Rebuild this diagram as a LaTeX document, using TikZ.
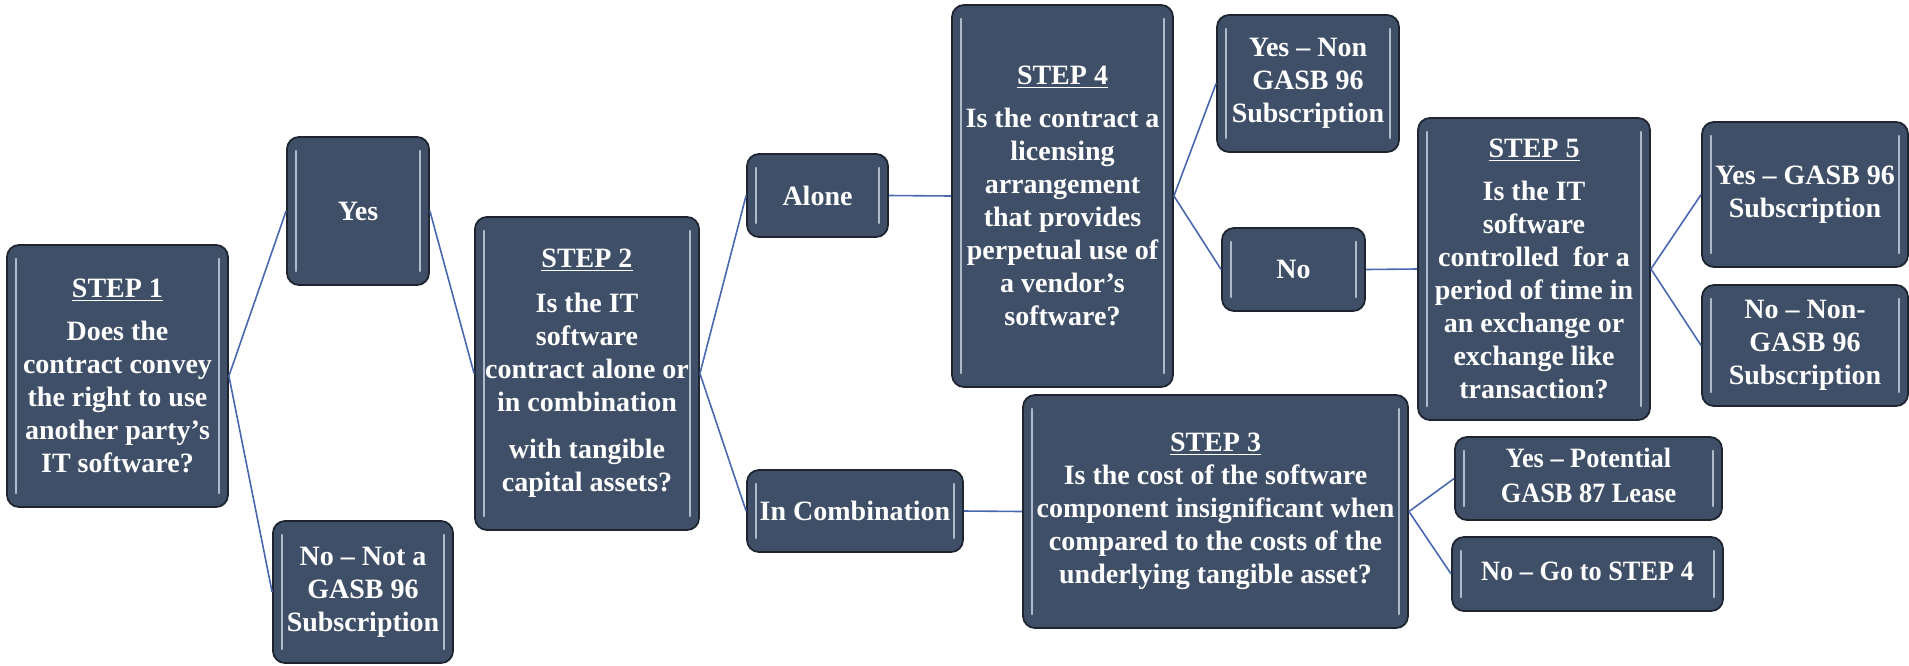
\documentclass[tikz,border=0pt]{standalone}
\usepackage{fontspec}
\setmainfont{Liberation Serif}
\usepackage{graphicx}

\definecolor{boxfill}{HTML}{3E4F67}
\definecolor{linkblue}{HTML}{4A68B0}
\definecolor{rim}{HTML}{1E2430}
\definecolor{gleam}{HTML}{C3CDDC}

% slightly narrowed setting for the wide answer boxes
\newcommand\narrow[2]{\scalebox{#1}[1]{\begin{tabular}{@{}c@{}}#2\end{tabular}}}

\tikzset{
  card/.style={
    draw=rim, line width=0.9pt, fill=boxfill, rounded corners=6pt,
    text=white, font=\fontsize{14}{16.5}\selectfont\bfseries,
    align=center, inner sep=2pt,
    path picture={
      \draw[gleam, line width=1.3pt, line cap=round, opacity=0.85]
        ([xshift=4.5pt,yshift=-7pt]path picture bounding box.north west) --
        ([xshift=4.5pt,yshift=7pt]path picture bounding box.south west);
      \draw[gleam, line width=1.3pt, line cap=round, opacity=0.85]
        ([xshift=-4.5pt,yshift=-7pt]path picture bounding box.north east) --
        ([xshift=-4.5pt,yshift=7pt]path picture bounding box.south east);
    }},
  link/.style={draw=linkblue, line width=0.8pt},
}

\begin{document}
\begin{tikzpicture}[x=0.5pt, y=-0.5pt]
\useasboundingbox (0,0) rectangle (1909,665);

% step boxes
\node[card, minimum width=110.5pt, minimum height=131pt] (s1) at (117.5,376)
  {\underline{STEP 1}\\[5pt] Does the\\ contract convey\\ the right to use\\ another party’s\\ IT software?};
\node[card, minimum width=112pt, minimum height=156.5pt] (s2) at (587,373.5)
  {\underline{STEP 2}\\[6pt] Is the IT\\ software\\ contract alone or\\ in combination\\[7pt] with tangible\\ capital assets?};
\node[card, minimum width=192.5pt, minimum height=116.5pt] (s3) at (1215.5,511.5)
  {\underline{STEP 3}\\ Is the cost of the software\\ component insignificant when\\ compared to the costs of the\\ underlying tangible asset?};
\node[card, minimum width=110.5pt, minimum height=191pt] (s4) at (1062.5,196)
  {\underline{STEP 4}\\[5pt] Is the contract a\\ licensing\\ arrangement\\ that provides\\ perpetual use of\\ a vendor’s\\ software?};
\node[card, minimum width=116pt, minimum height=151pt] (s5) at (1534,269)
  {\underline{STEP 5}\\[5pt] Is the IT\\ software\\ controlled\ \ for a\\ period of time in\\ an exchange or\\ exchange like\\ transaction?};

% answer boxes
\node[card, minimum width=71pt, minimum height=74pt] (yes1) at (358,211) {Yes};
\node[card, minimum width=90pt, minimum height=71pt] (no1) at (363,592)
  {No – Not a\\ GASB 96\\ Subscription};
\node[card, minimum width=70.5pt, minimum height=41.5pt] (alone) at (817.5,195.5) {Alone};
\node[card, minimum width=108pt, minimum height=41pt] (comb) at (855,511) {In Combination};
\node[card, minimum width=91pt, minimum height=68.5pt] (yesnon) at (1308,83.5)
  {Yes – Non\\ GASB 96\\ Subscription};
\node[card, minimum width=71.5pt, minimum height=41.5pt] (no4) at (1293.5,269.5) {No};
\node[card, minimum width=133.5pt, minimum height=41.5pt] (yespot) at (1588.5,478.5)
  {\narrow{0.94}{Yes – Potential\\[1pt] GASB 87 Lease}};
\node[card, minimum width=135.5pt, minimum height=37pt] (nogo) at (1587.5,574)
  {\narrow{0.94}{No – Go to STEP 4}};
\node[card, minimum width=103pt, minimum height=72.5pt] (yesg) at (1805,194.5)
  {Yes – GASB 96\\ Subscription};
\node[card, minimum width=103pt, minimum height=60.5pt] (nonon) at (1805,345.5)
  {No – Non-\\ GASB 96\\ Subscription};

% connectors
\draw[link] (s1.east) -- (yes1.west);
\draw[link] (s1.east) -- (no1.west);
\draw[link] (yes1.east) -- (s2.west);
\draw[link] (s2.east) -- (alone.west);
\draw[link] (s2.east) -- (comb.west);
\draw[link] (alone.east) -- (s4.west);
\draw[link] (comb.east) -- (s3.west);
\draw[link] (s4.east) -- (yesnon.west);
\draw[link] (s4.east) -- (no4.west);
\draw[link] (no4.east) -- (s5.west);
\draw[link] (s3.east) -- (yespot.west);
\draw[link] (s3.east) -- (nogo.west);
\draw[link] (s5.east) -- (yesg.west);
\draw[link] (s5.east) -- (nonon.west);
\end{tikzpicture}
\end{document}
